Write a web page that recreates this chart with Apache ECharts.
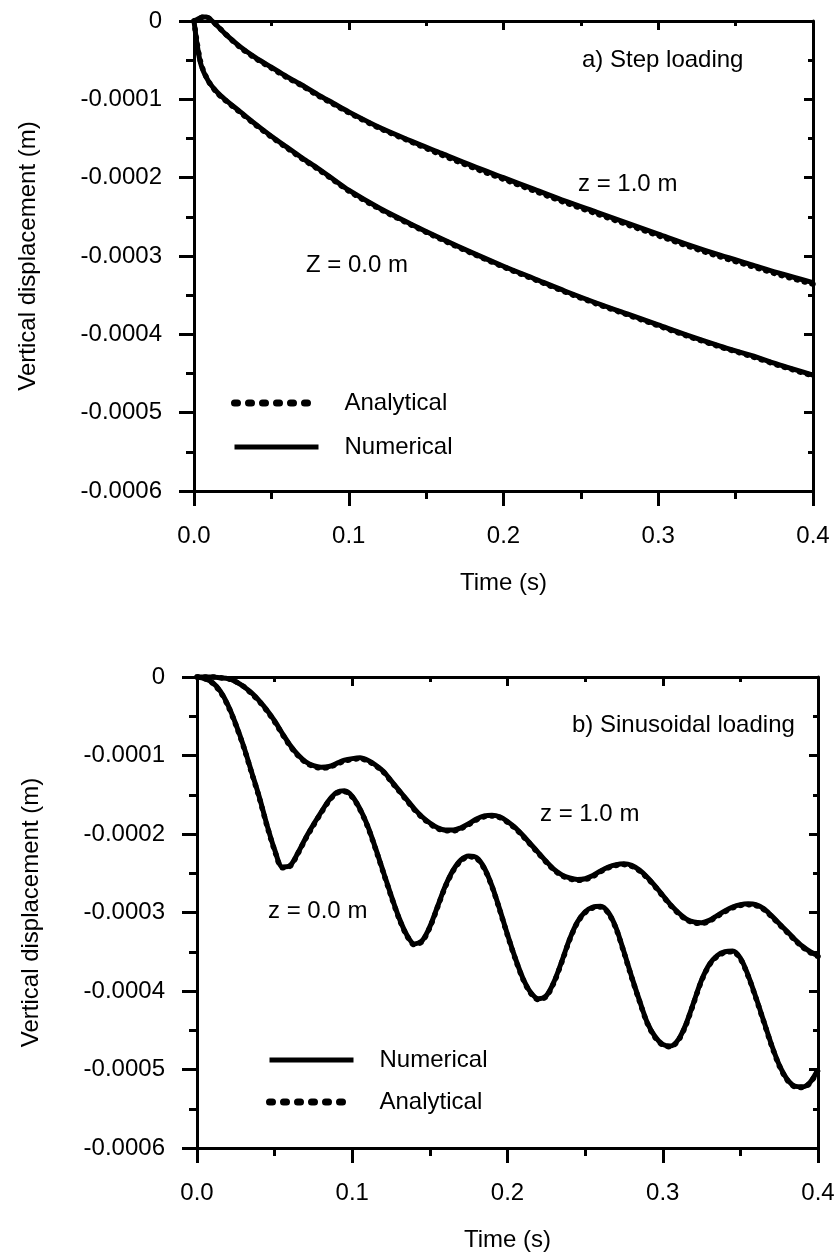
<!DOCTYPE html>
<html>
<head>
<meta charset="utf-8">
<script src="https://cdn.jsdelivr.net/npm/echarts@6/dist/echarts.min.js"></script>
<style>
html,body{margin:0;padding:0;background:#fff;}
#chart{width:839px;height:1260px;}
</style>
</head>
<body>
<div id="chart"></div>
<script>
// values of vertical displacement in units of 1e-4 m
const yTickLabels = ['-0.0006','-0.0005','-0.0004','-0.0003','-0.0002','-0.0001','0'];
const xTickLabels = ['0.0','0.1','0.2','0.3','0.4'];

// a) Step loading
const stepT = [0,0.002,0.004,0.006,0.008,0.01,0.015,0.02,0.03,0.04,0.05,0.06,0.07,0.08,0.09,0.10,0.12,0.14,0.16,0.18,0.20,0.22,0.24,0.26,0.28,0.30,0.32,0.34,0.36,0.38,0.40];
const stepZ0Num = [0,-0.30,-0.52,-0.64,-0.72,-0.79,-0.91,-1.00,-1.16,-1.32,-1.47,-1.61,-1.75,-1.88,-2.02,-2.16,-2.39,-2.59,-2.78,-2.96,-3.13,-3.29,-3.45,-3.60,-3.74,-3.88,-4.02,-4.15,-4.27,-4.40,-4.52];
const stepZ0Ana = [0,-0.28,-0.50,-0.63,-0.72,-0.79,-0.92,-1.01,-1.17,-1.33,-1.48,-1.62,-1.76,-1.89,-2.03,-2.17,-2.40,-2.60,-2.79,-2.97,-3.14,-3.30,-3.46,-3.61,-3.75,-3.89,-4.03,-4.16,-4.28,-4.41,-4.53];
const stepZ1Num = [0,0.02,0.04,0.05,0.05,0.03,-0.06,-0.16,-0.33,-0.47,-0.59,-0.71,-0.82,-0.94,-1.05,-1.16,-1.36,-1.53,-1.69,-1.85,-2.00,-2.15,-2.30,-2.44,-2.58,-2.72,-2.86,-2.99,-3.11,-3.23,-3.34];
const stepZ1Ana = [0,0.02,0.04,0.05,0.05,0.03,-0.06,-0.16,-0.34,-0.48,-0.60,-0.72,-0.83,-0.95,-1.06,-1.17,-1.37,-1.54,-1.71,-1.87,-2.02,-2.17,-2.32,-2.46,-2.60,-2.74,-2.88,-3.01,-3.13,-3.25,-3.36];

// b) Sinusoidal loading
const sinT = [0,0.005,0.01,0.015,0.02,0.025,0.03,0.035,0.04,0.045,0.05,0.055,0.06,0.065,0.07,0.075,0.08,0.085,0.09,0.095,
  0.1,0.105,0.11,0.115,0.12,0.125,0.13,0.135,0.14,0.145,0.15,0.155,0.16,0.165,0.17,0.175,0.18,0.185,0.19,0.195,
  0.2,0.205,0.21,0.215,0.22,0.225,0.23,0.235,0.24,0.245,0.25,0.255,0.26,0.265,0.27,0.275,0.28,0.285,0.29,0.295,
  0.3,0.305,0.31,0.315,0.32,0.325,0.33,0.335,0.34,0.345,0.35,0.355,0.36,0.365,0.37,0.375,0.38,0.385,0.39,0.395,0.4];
const sinZ0Num = [0,-0.02,-0.07,-0.18,-0.36,-0.60,-0.88,-1.20,-1.52,-1.88,-2.20,-2.42,-2.40,-2.24,-2.05,-1.88,-1.72,-1.57,-1.47,-1.45,
  -1.52,-1.68,-1.90,-2.18,-2.48,-2.78,-3.06,-3.28,-3.40,-3.36,-3.18,-2.92,-2.66,-2.46,-2.33,-2.28,-2.30,-2.43,-2.66,-2.96,
  -3.28,-3.58,-3.84,-4.02,-4.10,-4.06,-3.88,-3.62,-3.34,-3.12,-2.99,-2.93,-2.92,-3.00,-3.20,-3.50,-3.82,-4.12,-4.40,-4.58,
  -4.68,-4.70,-4.62,-4.42,-4.14,-3.86,-3.66,-3.55,-3.50,-3.49,-3.58,-3.80,-4.08,-4.38,-4.68,-4.94,-5.12,-5.21,-5.22,-5.16,-5.00];
const sinZ0Ana = [0,-0.02,-0.08,-0.19,-0.37,-0.61,-0.89,-1.21,-1.53,-1.89,-2.21,-2.43,-2.41,-2.25,-2.06,-1.89,-1.73,-1.58,-1.48,-1.46,
  -1.53,-1.69,-1.91,-2.19,-2.49,-2.79,-3.07,-3.29,-3.41,-3.37,-3.19,-2.93,-2.67,-2.47,-2.34,-2.29,-2.31,-2.44,-2.67,-2.97,
  -3.29,-3.59,-3.85,-4.03,-4.11,-4.07,-3.89,-3.63,-3.35,-3.13,-3.00,-2.94,-2.93,-3.01,-3.21,-3.51,-3.83,-4.13,-4.41,-4.59,
  -4.69,-4.71,-4.63,-4.43,-4.15,-3.87,-3.67,-3.56,-3.51,-3.50,-3.59,-3.81,-4.09,-4.39,-4.69,-4.95,-5.13,-5.22,-5.23,-5.17,-5.01];
const sinZ1Num = [0,0,0,-0.01,-0.02,-0.06,-0.12,-0.20,-0.30,-0.42,-0.56,-0.72,-0.87,-0.99,-1.08,-1.13,-1.15,-1.14,-1.10,-1.06,
  -1.04,-1.03,-1.06,-1.12,-1.20,-1.32,-1.44,-1.56,-1.68,-1.78,-1.86,-1.92,-1.95,-1.95,-1.92,-1.87,-1.81,-1.77,-1.76,-1.78,
  -1.84,-1.92,-2.02,-2.13,-2.24,-2.35,-2.45,-2.52,-2.56,-2.58,-2.57,-2.53,-2.47,-2.42,-2.39,-2.38,-2.40,-2.46,-2.55,-2.66,
  -2.78,-2.90,-3.00,-3.08,-3.12,-3.13,-3.10,-3.04,-2.98,-2.93,-2.90,-2.89,-2.90,-2.95,-3.04,-3.14,-3.24,-3.34,-3.43,-3.50,-3.55];
const sinZ1Ana = [0,0,0,-0.01,-0.02,-0.06,-0.12,-0.21,-0.31,-0.43,-0.57,-0.73,-0.88,-1.00,-1.09,-1.14,-1.16,-1.15,-1.11,-1.07,
  -1.05,-1.04,-1.07,-1.13,-1.21,-1.33,-1.45,-1.57,-1.69,-1.79,-1.87,-1.93,-1.96,-1.96,-1.93,-1.88,-1.82,-1.78,-1.77,-1.79,
  -1.85,-1.93,-2.03,-2.14,-2.25,-2.36,-2.46,-2.53,-2.57,-2.59,-2.58,-2.54,-2.48,-2.43,-2.40,-2.39,-2.41,-2.47,-2.56,-2.67,
  -2.79,-2.91,-3.01,-3.09,-3.13,-3.14,-3.11,-3.05,-2.99,-2.94,-2.91,-2.90,-2.91,-2.96,-3.05,-3.15,-3.25,-3.35,-3.44,-3.51,-3.56];

const FONT = 'Liberation Sans, Arial, sans-serif';
const BLACK = '#000';

function pairs(t, v){ return t.map((x,i)=>[x, v[i]]); }

function xAxes(gi){
  const common = {
    type:'value', gridIndex:gi, min:0, max:0.4, interval:0.1,
    splitLine:{show:false}, minorSplitLine:{show:false},
    axisLine:{show:true, onZero:false, lineStyle:{color:BLACK, width:3}}
  };
  return [
    Object.assign({}, common, {
      position:'bottom',
      axisTick:{show:true, inside:false, length:15, lineStyle:{color:BLACK, width:3}},
      minorTick:{show:true, splitNumber:2, length:8, lineStyle:{color:BLACK, width:3}},
      axisLabel:{show:true, margin:33, fontSize:24, color:BLACK, fontFamily:FONT,
        formatter:(v)=>xTickLabels[Math.round(v*10)]},
      name:'Time (s)', nameLocation:'middle', nameGap:80,
      nameTextStyle:{fontSize:24, color:BLACK, fontFamily:FONT}
    }),
    Object.assign({}, common, {
      position:'top',
      axisTick:{show:true, inside:true, length:9, lineStyle:{color:BLACK, width:3}},
      minorTick:{show:true, splitNumber:2, length:5, lineStyle:{color:BLACK, width:3}},
      axisLabel:{show:false}
    })
  ];
}
function yAxes(gi){
  const common = {
    type:'value', gridIndex:gi, min:-6, max:0, interval:1,
    splitLine:{show:false}, minorSplitLine:{show:false},
    axisLine:{show:true, onZero:false, lineStyle:{color:BLACK, width:3}}
  };
  return [
    Object.assign({}, common, {
      position:'left',
      axisTick:{show:true, inside:false, length:15, lineStyle:{color:BLACK, width:3}},
      minorTick:{show:true, splitNumber:2, length:8, lineStyle:{color:BLACK, width:3}},
      axisLabel:{show:true, margin:32, fontSize:24, color:BLACK, fontFamily:FONT,
        formatter:(v)=>yTickLabels[Math.round(v)+6]},
      name:'Vertical displacement (m)', nameLocation:'middle', nameGap:154, nameRotate:90,
      nameTextStyle:{fontSize:24, color:BLACK, fontFamily:FONT}
    }),
    Object.assign({}, common, {
      position:'right',
      axisTick:{show:true, inside:true, length:9, lineStyle:{color:BLACK, width:3}},
      minorTick:{show:true, splitNumber:2, length:5, lineStyle:{color:BLACK, width:3}},
      axisLabel:{show:false}
    })
  ];
}

function numSeries(xi, data){
  return {type:'line', name:'Numerical', xAxisIndex:xi, yAxisIndex:xi, data:data,
    showSymbol:false, symbol:'none', smooth:0.3, silent:true, clip:false,
    lineStyle:{color:BLACK, width:5}, itemStyle:{color:BLACK}};
}
function anaSeries(xi, data){
  return {type:'line', name:'Analytical', xAxisIndex:xi, yAxisIndex:xi, data:data,
    showSymbol:false, symbol:'none', smooth:0.3, silent:true, clip:false,
    lineStyle:{color:BLACK, width:5.5, type:[1,7], cap:'round'}, itemStyle:{color:BLACK}};
}

const legendText = {fontSize:24, color:BLACK, fontFamily:FONT, padding:[0,0,0,21]};
const legNum = {name:'Numerical', itemStyle:{opacity:0}, lineStyle:{color:BLACK, width:5, type:'solid'}};
const legAna = {name:'Analytical', itemStyle:{opacity:0}, lineStyle:{color:BLACK, width:7, type:[3,11], cap:'round'}};

const option = {
  animation:false,
  backgroundColor:'#fff',
  grid:[
    {left:194, top:21, width:619, height:470, containLabel:false},
    {left:197, top:677, width:621, height:471, containLabel:false}
  ],
  xAxis:[].concat(xAxes(0), xAxes(1)),
  yAxis:[].concat(yAxes(0), yAxes(1)),
  legend:[
    {data:[legAna, legNum], orient:'vertical', left:231, top:391, padding:0,
      itemWidth:84, itemHeight:24, itemGap:20, selectedMode:false,
      itemStyle:{opacity:0}, textStyle:legendText},
    {data:[legNum, legAna], orient:'vertical', left:266, top:1048, padding:0,
      itemWidth:84, itemHeight:24, itemGap:18, selectedMode:false,
      itemStyle:{opacity:0}, textStyle:legendText}
  ],
  series:[
    numSeries(0, pairs(stepT, stepZ0Num)),
    numSeries(0, pairs(stepT, stepZ1Num)),
    anaSeries(0, pairs(stepT, stepZ0Ana)),
    anaSeries(0, pairs(stepT, stepZ1Ana)),
    numSeries(2, pairs(sinT, sinZ0Num)),
    numSeries(2, pairs(sinT, sinZ1Num)),
    anaSeries(2, pairs(sinT, sinZ0Ana)),
    anaSeries(2, pairs(sinT, sinZ1Ana))
  ],
  graphic:[
    {type:'text', left:582, top:48, style:{text:'a) Step loading', fontSize:24, fill:BLACK, fontFamily:FONT}},
    {type:'text', left:578, top:172, style:{text:'z = 1.0 m', fontSize:24, fill:BLACK, fontFamily:FONT}},
    {type:'text', left:306, top:253, style:{text:'Z = 0.0 m', fontSize:24, fill:BLACK, fontFamily:FONT}},
    {type:'text', left:572, top:713, style:{text:'b) Sinusoidal loading', fontSize:24, fill:BLACK, fontFamily:FONT}},
    {type:'text', left:540, top:802, style:{text:'z = 1.0 m', fontSize:24, fill:BLACK, fontFamily:FONT}},
    {type:'text', left:268, top:899, style:{text:'z = 0.0 m', fontSize:24, fill:BLACK, fontFamily:FONT}}
  ]
};

const chart = echarts.init(document.getElementById('chart'), null, {renderer:'canvas'});
chart.setOption(option);
</script>
</body>
</html>
